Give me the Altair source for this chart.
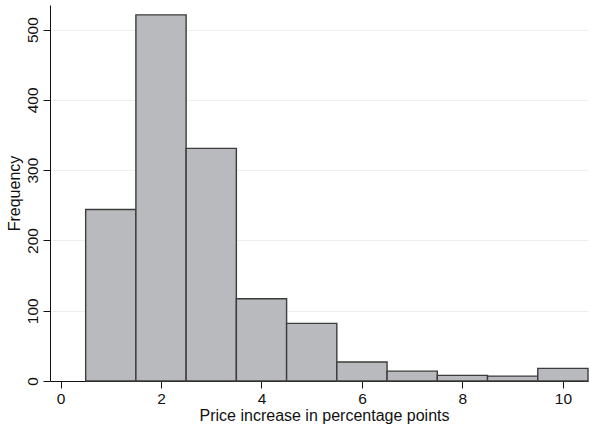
import altair as alt
import pandas as pd

bin_centers = [1, 2, 3, 4, 5, 6, 7, 8, 9, 10]
frequencies = [244, 521, 331, 117, 82, 27, 14, 8, 7, 18]
x_ticks = [0, 2, 4, 6, 8, 10]
y_ticks = [0, 100, 200, 300, 400, 500]

df = pd.DataFrame({"center": bin_centers, "freq": frequencies})

FONT = "Liberation Sans"

chart = (
    alt.Chart(df)
    .transform_calculate(lo="datum.center - 0.5", hi="datum.center + 0.5")
    .mark_rect(fill="#b9babd", stroke="#3c3c3c", strokeWidth=1.4)
    .encode(
        x=alt.X(
            "lo:Q",
            scale=alt.Scale(domain=[-0.21, 10.5], nice=False, zero=False),
            axis=alt.Axis(
                values=x_ticks,
                grid=False,
                title="Price increase in percentage points",
                titleFontSize=16,
                titleFontWeight="normal",
                titleColor="#111111",
                titlePadding=1,
                titleX=274,
                labelFontSize=15.5,
                labelColor="#111111",
                labelPadding=3,
                tickSize=7,
                tickColor="#111111",
                domainColor="#111111",
                labelFont=FONT,
                titleFont=FONT,
                labelFlush=False,
            ),
        ),
        x2="hi:Q",
        y=alt.Y(
            "freq:Q",
            scale=alt.Scale(domain=[0, 535], nice=False),
            axis=alt.Axis(
                values=y_ticks,
                grid=True,
                gridColor="#efefef",
                gridWidth=1,
                title="Frequency",
                titleFontSize=16,
                titleFontWeight="normal",
                titleColor="#111111",
                titlePadding=3,
                labelFontSize=15.5,
                labelColor="#111111",
                labelAngle=270,
                labelAlign="center",
                labelBaseline="bottom",
                labelPadding=3,
                tickSize=7,
                tickColor="#111111",
                domainColor="#111111",
                labelFont=FONT,
                titleFont=FONT,
                labelFlush=False,
            ),
        ),
        y2=alt.datum(0),
    )
    .properties(
        width=538,
        height=376,
        autosize=alt.AutoSizeParams(type="none"),
        padding={"left": 50, "top": 5, "right": 3, "bottom": 45},
        background="white",
    )
    .configure_view(stroke=None)
)

chart.save("out.html", embed_options={"renderer": "svg", "actions": False})
